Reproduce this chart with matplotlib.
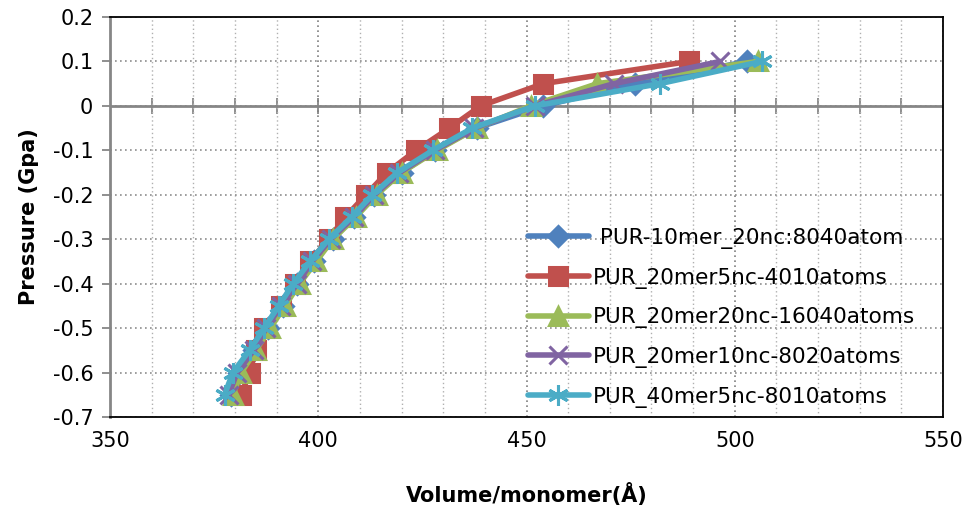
import numpy as np
import matplotlib.pyplot as plt
from matplotlib.ticker import MultipleLocator

# pressure levels (GPa), shared by all runs
pressure = [0.1, 0.05, 0, -0.05, -0.1, -0.15, -0.2, -0.25, -0.3, -0.35,
            -0.4, -0.45, -0.5, -0.55, -0.6, -0.65]

# volume per monomer
vol_10mer_20nc = [503, 476, 454, 438, 428, 420, 413.5, 408.5, 403.5, 399,
                  395, 391.5, 388, 384.5, 381, 379]
vol_20mer_5nc = [489, 454, 439, 431.5, 423.5, 416.5, 411.5, 406.5, 402.5, 398,
                 394.5, 391, 387, 385, 383.5, 381.5]
vol_20mer_20nc = [505.5, 467, 451, 438, 428.5, 420, 414, 409, 403.5, 399.5,
                  395.5, 392, 388.5, 385, 381.5, 379.5]
vol_20mer_10nc = [496.5, 471, 452, 437.5, 428, 419.5, 413.5, 408.5, 403, 398.5,
                  395, 391, 387.5, 384.5, 380.5, 378.5]
vol_40mer_5nc = [506.5, 482, 452, 437, 427.5, 419, 413, 408, 402.5, 398,
                 394, 390.5, 387, 383.5, 379.5, 377.5]

labels = [" PUR-10mer_20nc:8040atom", "PUR_20mer5nc-4010atoms",
          "PUR_20mer20nc-16040atoms", "PUR_20mer10nc-8020atoms",
          "PUR_40mer5nc-8010atoms"]
series = [vol_10mer_20nc, vol_20mer_5nc, vol_20mer_20nc, vol_20mer_10nc, vol_40mer_5nc]
colors = ["#4F81BD", "#C0504D", "#9BBB59", "#8064A2", "#4BACC6"]
markers = ["D", "s", "^", "x", (6, 2, 0)]
msizes = [10, 13, 13, 13, 15]

plt.rcParams['font.family'] = ['DejaVu Sans']

fig = plt.figure(figsize=(9.64, 5.12), dpi=100)
ax = fig.add_axes([110/964, 1 - 417/512, 833/964, 400/512])

for vol, lab, c, m, ms in zip(series, labels, colors, markers, msizes):
    ax.plot(vol, pressure, color=c, lw=4, marker=m, ms=ms, mew=2.2,
            mec=c, mfc=c, label=lab, solid_capstyle='round')

ax.set_xlim(350, 550)
ax.set_ylim(-0.7, 0.2)
ax.xaxis.set_major_locator(MultipleLocator(50))
ax.xaxis.set_minor_locator(MultipleLocator(10))

ax.grid(True, which='major', axis='x', ls=(0, (1, 2)), color='#7f7f7f', lw=1.2)
ax.grid(True, which='minor', axis='x', ls=(0, (1, 2)), color='#b0b0b0', lw=1.0)
ax.grid(True, which='major', axis='y', ls=(0, (1, 2)), color='#8c8c8c', lw=1.2)
ax.set_axisbelow(True)

ax.set_yticks(np.arange(-0.7, 0.21, 0.1))
ax.set_yticklabels(["-0.7", "-0.6", "-0.5", "-0.4", "-0.3", "-0.2", "-0.1", "0", "0.1", "0.2"])
ax.tick_params(axis='y', direction='out', length=6, width=1.3, color='#868686',
               labelsize=15, pad=6)
ax.tick_params(axis='x', which='both', length=0, labelsize=15, pad=10)

for s in ['top', 'right', 'bottom']:
    ax.spines[s].set_color('black')
    ax.spines[s].set_linewidth(1.3)
ax.spines['left'].set_color('#868686')
ax.spines['left'].set_linewidth(2)

# horizontal axis line crossing at zero pressure, with cross ticks every 10
ax.axhline(0, color='#868686', lw=2, zorder=1.5)
sec = ax.secondary_xaxis(0.7 / 0.9)
sec.set_xticks(np.arange(360, 550, 10))
sec.tick_params(direction='inout', length=12, width=1.3, color='#868686',
                labeltop=False, labelbottom=False, top=True, bottom=False)
sec.spines['top'].set_visible(False)
sec.spines['bottom'].set_visible(False)

ax.set_xlabel("Volume/monomer(Å)", fontsize=15, fontweight='bold', labelpad=23)
ax.set_ylabel("Pressure (Gpa)", fontsize=15, fontweight='bold', labelpad=10)

fig.legend(loc='upper left', bbox_to_anchor=(528/964, 1 - 228/512), frameon=False,
           fontsize=15.6, handlelength=2.8, handletextpad=0.2, labelspacing=0.86,
           borderpad=0, borderaxespad=0)

fig.savefig("out.png", dpi=100)
